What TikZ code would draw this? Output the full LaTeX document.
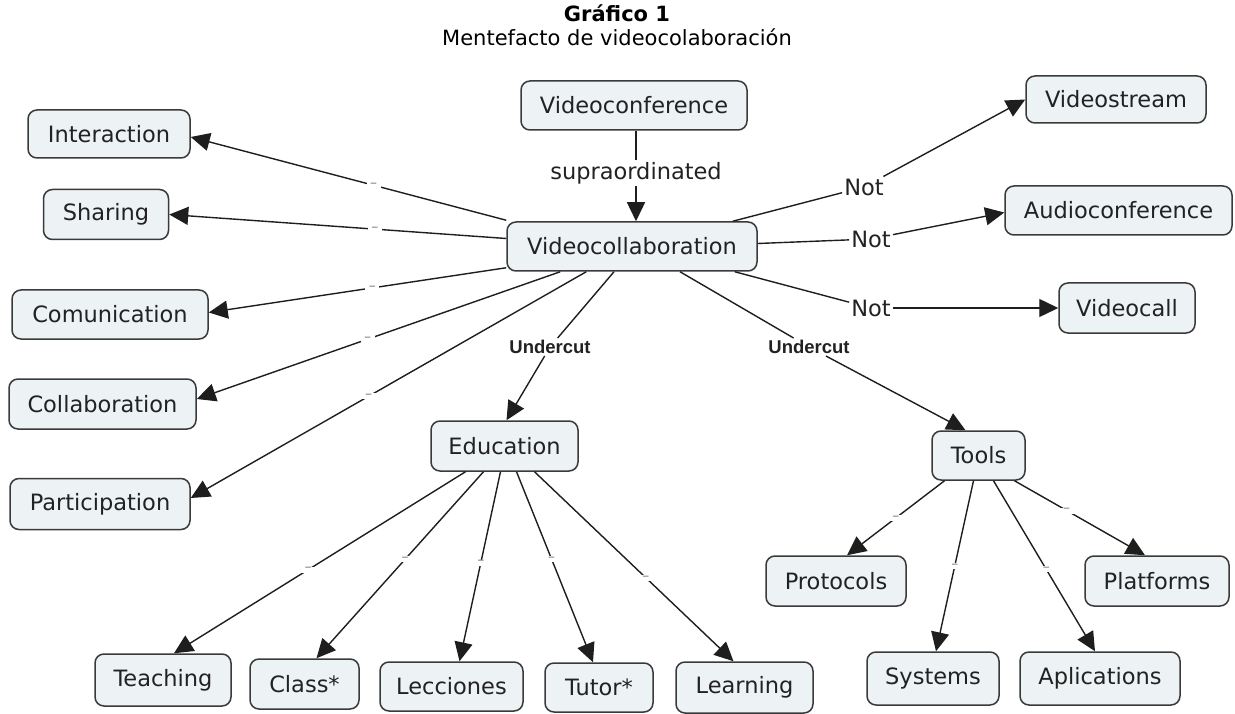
\documentclass[tikz,border=0pt]{standalone}
\usepackage{fontspec}
\setmainfont{DejaVu Sans}
\newfontfamily\labfont{Liberation Sans}
\usetikzlibrary{arrows.meta,calc}
\definecolor{boxfill}{HTML}{EDF2F5}
\definecolor{boxline}{HTML}{3A3A3A}
\definecolor{linecol}{HTML}{1E1E1E}
\definecolor{txt}{HTML}{222222}
\tikzset{
  box/.style={draw=boxline, fill=boxfill, line width=1.5pt, rounded corners=9pt,
    inner sep=0pt, text=txt, font=\fontsize{22.5}{27}\selectfont},
  lbl/.style={inner sep=2pt, text=txt, font=\fontsize{22.5}{27}\selectfont},
  ulbl/.style={inner sep=2pt, text=txt, font=\labfont\bfseries\fontsize{18.5}{22}\selectfont},
  conn/.style={draw=linecol, line width=1.4pt},
  arr/.style={conn, -{Triangle[length=19pt,width=18pt]}},
  mk/.style={fill=white, inner sep=0pt, minimum width=14pt, minimum height=6pt,
    text=gray, font=\fontsize{14}{14}\selectfont}
}
\begin{document}
\begin{tikzpicture}[x=1pt,y=-1pt]
\useasboundingbox (0,0) rectangle (1235,714);
% title
\node[text=black, font=\bfseries\fontsize{21}{25}\selectfont] (t1) at (617,13) {Gráfico 1};
\node[text=black, font=\fontsize{21}{25}\selectfont] (t2) at (617,37) {Mentefacto de videocolaboración};
% nodes
\node[box, minimum width=226pt, minimum height=49pt] (vcf) at (634,105.5) {Videoconference};
\node[box, minimum width=250pt, minimum height=49pt] (vc) at (632,246.5) {Videocollaboration};
\node[box, minimum width=180pt, minimum height=47pt] (vst) at (1116,99.5) {Videostream};
\node[box, minimum width=227pt, minimum height=49pt] (aud) at (1118.5,210.5) {Audioconference};
\node[box, minimum width=136pt, minimum height=50pt] (vcl) at (1127,308) {Videocall};
\node[box, minimum width=162pt, minimum height=48pt] (int) at (109,134) {Interaction};
\node[box, minimum width=125pt, minimum height=50pt] (sha) at (106,214.5) {Sharing};
\node[box, minimum width=196pt, minimum height=49pt] (com) at (110,314.5) {Comunication};
\node[box, minimum width=187pt, minimum height=50pt] (col) at (102.5,404) {Collaboration};
\node[box, minimum width=180pt, minimum height=51pt] (par) at (100,504) {Participation};
\node[box, minimum width=147pt, minimum height=50pt] (edu) at (504.5,446) {Education};
\node[box, minimum width=136pt, minimum height=52pt] (tea) at (163,680) {Teaching};
\node[box, minimum width=109pt, minimum height=50pt] (cla) at (304.5,684) {Class*};
\node[box, minimum width=143pt, minimum height=49pt] (lec) at (451.5,686.5) {Lecciones};
\node[box, minimum width=108pt, minimum height=49pt] (tut) at (599,687.5) {Tutor*};
\node[box, minimum width=137pt, minimum height=51pt] (lea) at (744.5,687.5) {Learning};
\node[box, minimum width=93pt, minimum height=49pt] (too) at (978.5,455.5) {Tools};
\node[box, minimum width=140pt, minimum height=50pt] (pro) at (836,581) {Protocols};
\node[box, minimum width=144pt, minimum height=50pt] (pla) at (1157,581) {Platforms};
\node[box, minimum width=132pt, minimum height=53pt] (sys) at (933,678.5) {Systems};
\node[box, minimum width=160pt, minimum height=53pt] (apl) at (1100,678.5) {Aplications};
% link labels
\node[lbl] (sup) at (636,173) {supraordinated};
\node[lbl] (not1) at (864,187) {Not};
\node[lbl] (not2) at (871,239) {Not};
\node[lbl] (not3) at (871,308) {Not};
\node[ulbl] (u1) at (550,347) {Undercut};
\node[ulbl] (u2) at (809,347) {Undercut};
% connectors
\draw[conn] ($(vcf.south)+(2,0)$) -- (sup);
\draw[arr] (sup) -- ($(vc.north)+(4,0)$);
\draw[conn] ($(vc.north east)+(-25,0)$) -- (not1);
\draw[arr] (not1) -- (vst.west);
\draw[conn] ($(vc.east)+(0,-3)$) -- (not2);
\draw[arr] (not2) -- ($(aud.west)+(0,2)$);
\draw[conn] ($(vc.south east)+(-23,0)$) -- (not3);
\draw[arr] (not3) -- (vcl.west);
\draw[conn] ($(vc.south)+(-18,0)$) -- (u1);
\draw[arr] (u1) -- ($(edu.north)+(2,0)$);
\draw[conn] ($(vc.south)+(48,0)$) -- (u2);
\draw[arr] (u2) -- ($(too.north)+(-13,0)$);
\draw[arr] ($(vc.north west)+(0,-1)$) -- node[mk,pos=0.42]{–} ($(int.east)+(0,3)$);
\draw[arr] ($(vc.west)+(0,-8)$) -- node[mk,pos=0.39]{–} (sha.east);
\draw[arr] ($(vc.south west)+(0,-4)$) -- node[mk,pos=0.45]{–} ($(com.east)+(0,-2)$);
\draw[arr] ($(vc.south west)+(54,0)$) -- node[mk,pos=0.53]{–} ($(col.east)+(0,-5)$);
\draw[arr] ($(vc.south west)+(80,0)$) -- node[mk,pos=0.55]{–} ($(par.east)+(0,-6)$);
\draw[arr] ($(edu.south)+(-39,0)$) -- node[mk,pos=0.54]{–} ($(tea.north)+(11,0)$);
\draw[arr] ($(edu.south)+(-21,0)$) -- node[mk,pos=0.47]{–} ($(cla.north)+(12,0)$);
\draw[arr] ($(edu.south)+(-4,0)$) -- node[mk,pos=0.48]{–} ($(lec.north)+(8,0)$);
\draw[arr] ($(edu.south)+(12,0)$) -- node[mk,pos=0.46]{–} ($(tut.north)+(-6,0)$);
\draw[arr] ($(edu.south)+(30,0)$) -- node[mk,pos=0.56]{–} ($(lea.north)+(-11,0)$);
\draw[arr] ($(too.south)+(-34,0)$) -- node[mk,pos=0.5]{–} ($(pro.north)+(11,0)$);
\draw[arr] ($(too.south)+(-5,0)$) -- node[mk,pos=0.5]{–} ($(sys.north)+(3,0)$);
\draw[arr] ($(too.south)+(15,0)$) -- node[mk,pos=0.52]{–} ($(apl.north)+(-5,0)$);
\draw[arr] ($(too.south)+(36,0)$) -- node[mk,pos=0.4]{–} ($(pla.north)+(-12,0)$);
\end{tikzpicture}
\end{document}
